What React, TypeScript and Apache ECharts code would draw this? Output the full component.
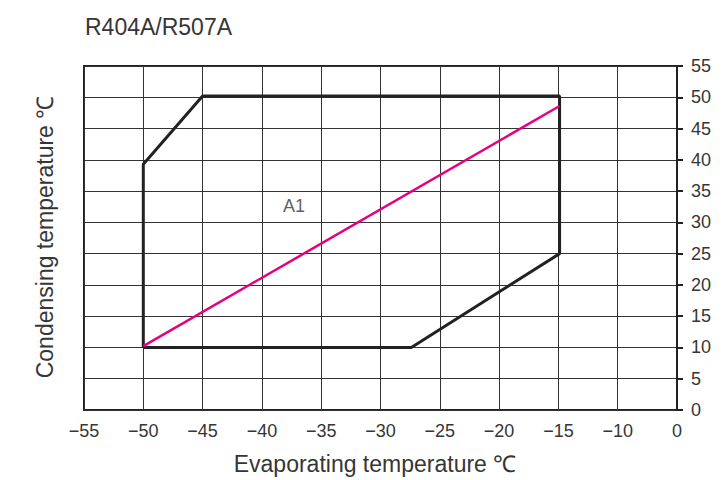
import React, { useEffect, useRef } from "react";
import * as echarts from "echarts";

const TITLE = "R404A/R507A";
const X_NAME = "Evaporating temperature ℃";
const Y_NAME = "Condensing temperature ℃";

// x tick labels as printed (last one reads 0)
const xTickLabels = ["−55", "−50", "−45", "−40", "−35", "−30", "−25", "−20", "−15", "−10", "0"];
const yTickLabels = ["0", "5", "10", "15", "20", "25", "30", "35", "40", "45", "50", "55"];

// envelope polygon (evaporating, condensing)
const envelopeX = [-50, -50, -45, -14.9, -14.9, -27.4, -50];
const envelopeY = [10, 39.3, 50.2, 50.2, 25, 10, 10];

// magenta line
const lineX = [-50, -14.9];
const lineY = [10.2, 48.6];

const areaLabel = { name: "A1", x: -37.3, y: 32.6 };

const FONT = "Liberation Sans";
const TXT = "#363636";

export default function App() {
  const ref = useRef<HTMLDivElement>(null);
  useEffect(() => {
    if (!ref.current) return;
    const chart = echarts.init(ref.current, undefined, { renderer: "svg" });
    const xMin = -55;
    const step = 5;
    chart.setOption({
      animation: false,
      backgroundColor: "#ffffff",
      textStyle: { fontFamily: FONT },
      title: {
        text: TITLE,
        left: 80,
        top: 10,
        textStyle: { fontFamily: FONT, fontSize: 23, fontWeight: "normal", color: TXT },
      },
      grid: {
        show: true,
        left: 84,
        width: 593,
        top: 66,
        height: 348,
        borderColor: "#222",
        borderWidth: 2,
        containLabel: false,
      },
      xAxis: {
        type: "value",
        min: -55,
        max: -5,
        interval: 5,
        name: X_NAME,
        nameLocation: "middle",
        nameGap: 42,
        nameTextStyle: { fontFamily: FONT, fontSize: 23, color: TXT, padding: [0, 11, 0, 0] },
        axisLine: { show: false },
        axisTick: { show: false },
        axisLabel: {
          margin: 12,
          fontSize: 18,
          color: TXT,
          fontFamily: FONT,
          formatter: (v: number) => {
            const i = Math.round((v - xMin) / step);
            return xTickLabels[i] ?? "";
          },
        },
        splitLine: { show: true, lineStyle: { color: "#333", width: 1 } },
      },
      yAxis: {
        type: "value",
        position: "right",
        min: 0,
        max: 55,
        interval: 5,
        axisLine: { show: true, lineStyle: { color: "#222", width: 2 } },
        axisTick: { show: true, inside: false, length: 6, lineStyle: { color: "#222", width: 2 } },
        axisLabel: {
          margin: 14,
          fontSize: 18,
          color: TXT,
          fontFamily: FONT,
          formatter: (v: number) => yTickLabels[Math.round(v / 5)] ?? "",
        },
        splitLine: { show: true, lineStyle: { color: "#333", width: 1 } },
      },
      graphic: [
        {
          type: "text",
          x: 45,
          y: 237,
          rotation: Math.PI / 2,
          style: {
            text: Y_NAME,
            fontFamily: FONT,
            fontSize: 23,
            fill: TXT,
            textAlign: "center",
            textVerticalAlign: "middle",
          },
        },
      ],
      series: [
        {
          type: "line",
          data: envelopeX.map((x, i) => [x, envelopeY[i]]),
          symbol: "none",
          lineStyle: { color: "#222", width: 3 },
          z: 3,
        },
        {
          type: "line",
          data: lineX.map((x, i) => [x, lineY[i]]),
          symbol: "none",
          lineStyle: { color: "#e6007e", width: 2.5 },
          z: 4,
        },
        {
          type: "scatter",
          data: [[areaLabel.x, areaLabel.y]],
          symbolSize: 0,
          label: {
            show: true,
            position: "inside",
            formatter: areaLabel.name,
            fontFamily: FONT,
            fontSize: 18,
            color: TXT,
          },
          z: 5,
        },
      ],
    });
    return () => chart.dispose();
  }, []);
  return <div ref={ref} style={{ position: "absolute", left: 0, top: 0, width: 725, height: 480 }} />;
}
